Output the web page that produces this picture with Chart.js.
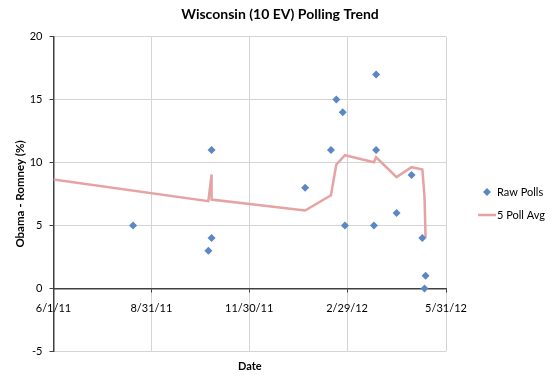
<!DOCTYPE html>
<html lang="en">
<head>
  <meta charset="UTF-8">
  <title>Wisconsin (10 EV) Polling Trend</title>
  <script src="https://cdn.jsdelivr.net/npm/chart.js"></script>
  <style>
    html, body { margin: 0; padding: 0; background: #fff; }
    #wrap { width: 560px; height: 378px; }
  </style>
</head>
<body>
  <div id="wrap"><canvas id="trendChart" width="560" height="378"></canvas></div>

  <script>
    // Raw polls: date and Obama - Romney margin
    const pollDates = ['2011-08-14', '2011-10-23', '2011-10-26', '2011-10-26', '2012-01-21',
                       '2012-02-14', '2012-02-19', '2012-02-25', '2012-02-27', '2012-03-25',
                       '2012-03-27', '2012-03-27', '2012-04-15', '2012-04-29', '2012-05-09',
                       '2012-05-11', '2012-05-12'];
    const pollValues = [5, 3, 4, 11, 8, 11, 15, 14, 5, 5, 17, 11, 6, 9, 4, 0, 1];

    // 5 poll average
    const avgDates = ['2011-06-01', '2011-10-23', '2011-10-26', '2011-10-26', '2012-01-21',
                      '2012-02-14', '2012-02-19', '2012-02-27', '2012-03-25', '2012-03-27',
                      '2012-04-15', '2012-04-29', '2012-05-09', '2012-05-11', '2012-05-12'];
    const avgValues = [8.65, 6.93, 9.05, 7.06, 6.19, 7.4, 9.84, 10.58, 10.02, 10.42,
                       8.84, 9.63, 9.44, 7.33, 4.02];

    // x axis ticks
    const tickDates = ['2011-06-01', '2011-08-31', '2011-11-30', '2012-02-29', '2012-05-31'];
    const tickLabels = ['6/1/11', '8/31/11', '11/30/11', '2/29/12', '5/31/12'];

    const FONT = 'Lato, "Liberation Sans", Arial, sans-serif';
    const BLUE = '#5b87c4';
    const PINK = '#e6a3a3';

    function toMs(d) { return Date.parse(d + 'T00:00:00Z'); }
    const tickMs = tickDates.map(toMs);

    // Legend to the right of the plot area
    const sideLegend = {
      id: 'sideLegend',
      afterDraw(chart) {
        const ctx = chart.ctx;
        const area = chart.chartArea;
        const midY = (area.top + area.bottom) / 2;
        const mx = area.right + 41;
        const tx = area.right + 51;
        ctx.save();
        ctx.font = '11px ' + FONT;
        ctx.textBaseline = 'middle';
        ctx.fillStyle = BLUE;
        ctx.beginPath();
        ctx.moveTo(mx, midY - 6);
        ctx.lineTo(mx + 4, midY - 2);
        ctx.lineTo(mx, midY + 2);
        ctx.lineTo(mx - 4, midY - 2);
        ctx.closePath();
        ctx.fill();
        ctx.fillStyle = '#000';
        ctx.fillText('Raw Polls', tx, midY - 2);
        ctx.strokeStyle = PINK;
        ctx.lineWidth = 2.5;
        ctx.beginPath();
        ctx.moveTo(area.right + 32, midY + 21);
        ctx.lineTo(area.right + 50, midY + 21);
        ctx.stroke();
        ctx.fillText('5 Poll Avg', tx, midY + 21);
        ctx.restore();
      }
    };

    const ctx = document.getElementById('trendChart').getContext('2d');
    const trendChart = new Chart(ctx, {
      type: 'scatter',
      data: {
        datasets: [
          {
            label: 'Raw Polls',
            data: pollDates.map((d, i) => ({ x: toMs(d), y: pollValues[i] })),
            pointStyle: 'rectRot',
            pointRadius: 4,
            pointHoverRadius: 4,
            backgroundColor: BLUE,
            borderColor: BLUE,
            borderWidth: 0,
            order: 1
          },
          {
            label: '5 Poll Avg',
            data: avgDates.map((d, i) => ({ x: toMs(d), y: avgValues[i] })),
            showLine: true,
            borderColor: PINK,
            borderWidth: 2.5,
            pointRadius: 0,
            pointHoverRadius: 0,
            tension: 0,
            order: 2
          }
        ]
      },
      options: {
        responsive: false,
        animation: false,
        layout: { padding: 0 },
        scales: {
          x: {
            type: 'linear',
            position: { y: 0 },
            min: tickMs[0],
            max: tickMs[tickMs.length - 1],
            afterBuildTicks: (scale) => { scale.ticks = tickMs.map(v => ({ value: v })); },
            afterFit: (scale) => { scale.height = 0; },
            ticks: {
              autoSkip: false,
              maxRotation: 0,
              padding: 10,
              color: '#000',
              font: { family: FONT, size: 11 },
              callback: (value) => tickLabels[tickMs.indexOf(value)]
            },
            grid: { color: '#d4d4d4', lineWidth: 1, tickLength: 3, tickColor: '#404040' },
            border: { display: true, color: '#404040', width: 1.5 }
          },
          x2: {
            type: 'linear',
            position: 'bottom',
            min: tickMs[0],
            max: tickMs[tickMs.length - 1],
            afterFit: (scale) => { scale.height = 26.7; },
            ticks: { display: false },
            grid: { display: false },
            border: { display: false },
            title: {
              display: true,
              text: 'Date',
              color: '#000',
              font: { family: FONT, size: 11, weight: 'bold' },
              padding: { top: 0, bottom: 5 }
            }
          },
          y: {
            min: -5,
            max: 20,
            afterFit: (scale) => { scale.width = 53.5; },
            ticks: {
              stepSize: 5,
              padding: 7,
              color: '#000',
              font: { family: FONT, size: 11 }
            },
            grid: { color: '#d4d4d4', lineWidth: 1, tickLength: 4, tickColor: '#404040' },
            border: { display: true, color: '#404040', width: 1.5 },
            title: {
              display: true,
              text: 'Obama - Romney (%)',
              color: '#000',
              font: { family: FONT, size: 11.5, weight: 'bold' },
              padding: { top: 13, bottom: 0 }
            }
          },
          // empty right-hand band that holds the legend
          yLegend: {
            position: 'right',
            min: -5,
            max: 20,
            afterFit: (scale) => { scale.width = 114; },
            ticks: { display: false },
            grid: { display: false },
            border: { display: false }
          }
        },
        plugins: {
          legend: { display: false },
          tooltip: { enabled: false },
          title: {
            display: true,
            text: 'Wisconsin (10 EV) Polling Trend',
            color: '#000',
            font: { family: FONT, size: 14, weight: 'bold' },
            padding: { top: 6.1, bottom: 13.8 }
          }
        }
      },
      plugins: [sideLegend]
    });
  </script>
</body>
</html>
